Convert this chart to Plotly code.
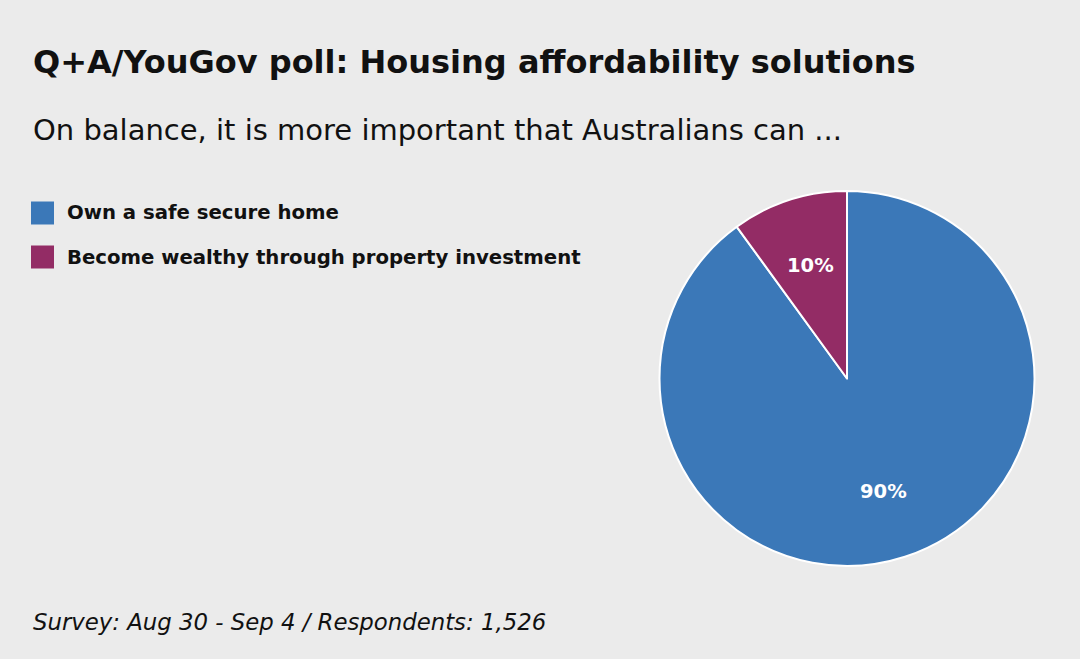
import math
import plotly.graph_objects as go

labels = ["Own a safe secure home", "Become wealthy through property investment"]
values = [90, 10]
colors = ["#3b78b8", "#932c65"]

title = "Q+A/YouGov poll: Housing affordability solutions"
subtitle = "On balance, it is more important that Australians can ..."
footnote = "Survey: Aug 30 - Sep 4 / Respondents: 1,526"

W, H = 1080, 659
BG = "#ebebeb"
FONT = "DejaVu Sans"

def px(x):
    return x / W

def py(y):
    return 1 - y / H

# pie geometry (pixels)
PX0, PX1, PY0, PY1 = 659, 1035, 191, 566
CX, CY, R = (PX0 + PX1) / 2, (PY0 + PY1) / 2, (PX1 - PX0) / 2

fig = go.Figure()
fig.add_trace(go.Pie(
    labels=labels, values=values,
    marker=dict(colors=colors, line=dict(color="white", width=2)),
    sort=False, direction="clockwise", rotation=0,
    textinfo="none",
    domain=dict(x=[px(PX0), px(PX1)], y=[py(PY1), py(PY0)]),
    showlegend=False, hoverinfo="label+percent",
))

annotations = [
    dict(text="<b>" + title + "</b>", x=px(31), y=py(62), xanchor="left", yanchor="middle",
         font=dict(family=FONT, size=32, color="#111111")),
    dict(text=subtitle, x=px(31), y=py(130), xanchor="left", yanchor="middle",
         font=dict(family=FONT, size=29, color="#111111")),
    dict(text="<i>" + footnote + "</i>", x=px(31), y=py(622), xanchor="left", yanchor="middle",
         font=dict(family=FONT, size=22.8, color="#111111")),
]

# slice labels placed along each slice's bisector
total = sum(values)
cum = 0
for v in values:
    mid = (cum + v / 2) / total * 2 * math.pi
    cum += v
    lx = CX + 0.63 * R * math.sin(mid)
    ly = CY - 0.63 * R * math.cos(mid)
    annotations.append(dict(text="<b>%d%%</b>" % round(v / total * 100), x=px(lx), y=py(ly),
                            xanchor="center", yanchor="middle",
                            font=dict(family=FONT, size=19.5, color="white")))

shapes = []
for i, (lab, col) in enumerate(zip(labels, colors)):
    yc = 213 + i * 44
    shapes.append(dict(type="rect", xref="paper", yref="paper",
                       x0=px(31), x1=px(54), y0=py(yc - 11.5), y1=py(yc + 11.5),
                       fillcolor=col, line=dict(width=0)))
    annotations.append(dict(text="<b>" + lab + "</b>", x=px(65), y=py(yc), xanchor="left",
                            yanchor="middle",
                            font=dict(family=FONT, size=19.7, color="#111111")))
for a in annotations:
    a.update(xref="paper", yref="paper", showarrow=False)

fig.update_layout(
    width=W, height=H, paper_bgcolor=BG, plot_bgcolor=BG,
    margin=dict(l=0, r=0, t=0, b=0),
    annotations=annotations, shapes=shapes, showlegend=False,
)
fig.write_html("out.html", config={"displayModeBar": False},
               post_script="document.body.style.margin='0';")
